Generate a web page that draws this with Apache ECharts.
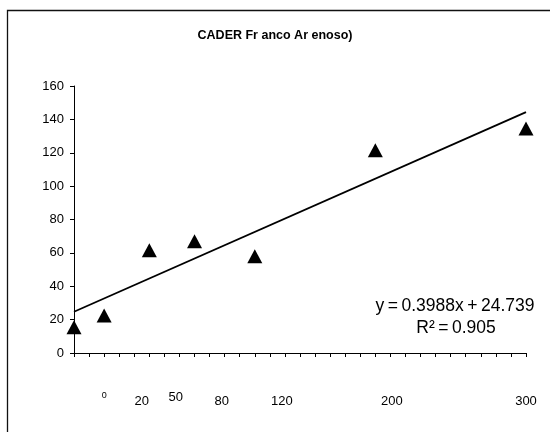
<!DOCTYPE html>
<html>
<head>
<meta charset="utf-8">
<script src="https://cdn.jsdelivr.net/npm/echarts@6/dist/echarts.min.js"></script>
<style>
  html, body { margin: 0; padding: 0; background: #fff; }
  #chart { width: 550px; height: 432px; }
</style>
</head>
<body>
<div id="chart"></div>
<script>
// Observed points
const xValues = [0, 20, 50, 80, 120, 200, 300];
const yValues = [15.5, 22.5, 61.5, 67, 58, 121.5, 134.5];

// Linear fit coefficients as printed on the chart
const slope = 0.3988;
const intercept = 24.739;
const rSquared = 0.905;

// Category labels under the axis and where they sit on the value scale
const labelTexts = ['0', '20', '50', '80', '120', '200', '300'];
const labelPositions = [20, 45, 67.5, 98, 138, 211, 300];

const titleText = 'CADER Fr anco Ar enoso)';

const points = xValues.map((x, i) => [x, yValues[i]]);
const trend = [[0, intercept], [300, slope * 300 + intercept]];

const FONT = '"Liberation Sans", Arial, sans-serif';
const chart = echarts.init(document.getElementById('chart'), null, { renderer: 'canvas' });

chart.setOption({
  animation: false,
  backgroundColor: '#ffffff',
  title: {
    text: titleText,
    left: 'center',
    top: 24,
    textStyle: { fontFamily: FONT, fontSize: 12.5, fontWeight: 'bold', color: '#000' }
  },
  grid: { left: 74, right: 24, top: 86, bottom: 79 },
  xAxis: [
    {
      type: 'value', min: 0, max: 300, interval: 10,
      axisLine: { show: true, lineStyle: { color: '#000', width: 1 } },
      axisTick: { show: true, length: 4, inside: false, lineStyle: { color: '#000' } },
      axisLabel: { show: false },
      splitLine: { show: false }
    },
    {
      type: 'value', min: 0, max: 300, position: 'bottom',
      axisLine: { show: false },
      axisTick: { show: false },
      splitLine: { show: false },
      axisLabel: {
        show: true,
        customValues: labelPositions,
        margin: 48,
        verticalAlign: 'middle',
        fontFamily: FONT, fontSize: 13, color: '#000',
        formatter: function (v) {
          const i = labelPositions.indexOf(v);
          if (i < 0) return '';
          if (i === 0) return '{s|' + labelTexts[i] + '}';
          if (i === 2) return '{u|' + labelTexts[i] + '}';
          return labelTexts[i];
        },
        rich: {
          s: { fontFamily: FONT, fontSize: 9, color: '#000', padding: [0, 0, 11, 0] },
          u: { fontFamily: FONT, fontSize: 13, color: '#000', padding: [0, 0, 8, 0] }
        }
      }
    }
  ],
  yAxis: {
    type: 'value', min: 0, max: 160, interval: 20,
    axisLine: { show: true, lineStyle: { color: '#000', width: 1 } },
    axisTick: { show: true, length: 4, inside: false, lineStyle: { color: '#000' } },
    axisLabel: { fontFamily: FONT, fontSize: 13, color: '#000', margin: 10 },
    splitLine: { show: false }
  },
  series: [
    {
      type: 'line',
      data: trend,
      symbol: 'none',
      lineStyle: { color: '#000', width: 1.8 },
      z: 2
    },
    {
      type: 'scatter',
      data: points,
      symbol: 'triangle',
      symbolSize: [15, 14],
      itemStyle: { color: '#000', opacity: 1 },
      z: 3
    }
  ],
  graphic: [
    {
      type: 'rect',
      shape: { x: 7.5, y: 10.5, width: 700, height: 700 },
      style: { fill: 'none', stroke: '#111', lineWidth: 1.3 },
      silent: true, z: 10
    },
    {
      type: 'text',
      x: 455, y: 306.5,
      style: {
        text: 'y\u2009=\u2009' + slope + 'x\u2009+\u2009' + intercept,
        font: '17.5px ' + FONT, fill: '#000', align: 'center', verticalAlign: 'middle'
      },
      z: 10
    },
    {
      type: 'text',
      x: 456, y: 328,
      style: {
        text: 'R\u00b2\u2009=\u2009' + rSquared.toFixed(3),
        font: '17.5px ' + FONT, fill: '#000', align: 'center', verticalAlign: 'middle'
      },
      z: 10
    }
  ]
});
</script>
</body>
</html>
